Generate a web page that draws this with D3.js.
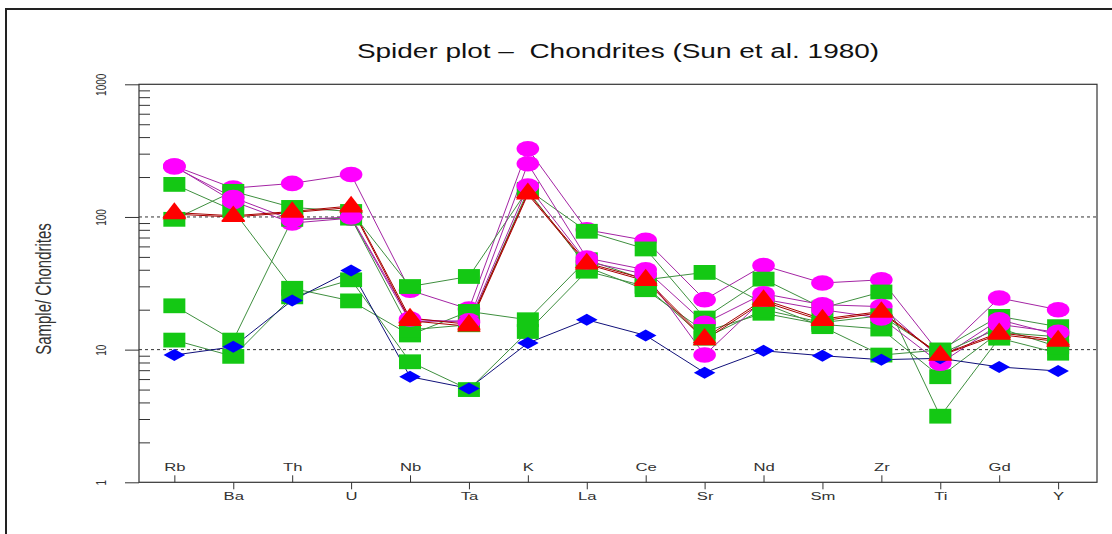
<!DOCTYPE html>
<html>
<head>
<meta charset="utf-8">
<script src="https://cdn.jsdelivr.net/npm/d3@7"></script>
<style>
  body { margin: 0; background: #fff; }
  svg { display: block; font-family: "Liberation Sans", Arial, sans-serif; }
</style>
</head>
<body>
<div id="chart"></div>
<script>
// categories (spider plot elements)
const elements = ["Rb","Ba","Th","U","Nb","Ta","K","La","Ce","Sr","Nd","Sm","Zr","Ti","Gd","Y"]

// sample / chondrite values
const magenta1 = [242, 165, 179, 209, 28, 20.2, 327, 80, 66.6, 23.8, 43, 31.8, 33.6, 9.2, 24.5, 20]
const magenta2 = [242, 131, 90, 98, 16.3, 16.5, 252, 49, 40, 15.8, 26.4, 21.8, 21.1, 8.6, 16.8, 12.9]
const magenta3 = [238, 140, 95, 100, 17, 16, 171, 46, 37, 9.1, 24, 20, 17.3, 7.9, 15.5, 13.5]
const green1 = [96, 156, 118, 110, 29.9, 35.6, 161, 78, 57.4, 17.3, 34, 20.6, 27.2, 3.15, 12.2, 9.4]
const green2 = [176, 112, 29, 23.3, 12.9, 19.4, 16.8, 47.6, 33.6, 38.2, 22.4, 14.9, 9.1, 9.95, 17.8, 14.9]
const green3 = [21.4, 11.8, 96, 98, 14.1, 15.4, 158, 42, 28.3, 13.7, 18.8, 15.5, 14.3, 6.25, 13.5, 12.5]
const green4 = [11.8, 8.9, 25, 33.6, 8.1, 5.0, 13.7, 39, 30, 12.2, 20, 16, 18, 9.3, 14.5, 10.5]
const blue1 = [9.1, 10.5, 23.5, 39.5, 6.25, 5.1, 11.2, 16.8, 12.8, 6.7, 9.8, 9.0, 8.4, 8.6, 7.4, 6.9]
const red1 = [108, 102, 110, 121, 17.3, 15.5, 152, 45, 34, 12.2, 23.8, 17, 19.4, 9.1, 13.4, 11.8]
const red2 = [105, 100, 108, 118, 16.5, 15, 148, 44, 33, 11.8, 23, 16.5, 19, 9.0, 13, 11.5]

const yTicks = [1, 10, 100, 1000]
const refLines = [10, 100]

const width = 1112,
  height = 534
const plotLeft = 139, plotRight = 1097, plotTop = 84.3, plotBottom = 482.3
const sx = 1.45   // the original picture is stretched sideways

const svg = d3.select('#chart')
  .append('svg')
  .attr('width', width)
  .attr('height', height)

const xScale = d3.scaleLinear()
  .domain([0.4, 16.66])
  .range([plotLeft, plotRight])

const yScale = d3.scaleLog()
  .domain([1, 1000])
  .range([plotBottom, plotTop])

// outer frame (only top/left visible)
svg.append('rect')
  .attr('x', 6).attr('y', 9)
  .attr('width', 1300).attr('height', 700)
  .attr('fill', 'none').attr('stroke', '#222').attr('stroke-width', 2)

// title
svg.append('text')
  .attr('transform', `translate(618,58) scale(${sx},1)`)
  .attr('text-anchor', 'middle')
  .style('white-space', 'pre')
  .attr('font-size', 19.3)
  .attr('fill', '#111')
  .text('Spider plot \u2013  Chondrites (Sun et al. 1980)')

// y label
svg.append('text')
  .attr('transform', `translate(51,289) scale(${sx},1) rotate(-90)`)
  .attr('text-anchor', 'middle')
  .attr('font-size', 15)
  .attr('fill', '#333')
  .text('Sample/ Chondrites')

// dashed reference lines
svg.selectAll('.ref')
  .data(refLines)
  .enter()
  .append('line')
  .attr('x1', plotLeft).attr('x2', plotRight)
  .attr('y1', d => yScale(d)).attr('y2', d => yScale(d))
  .attr('stroke', '#333')
  .attr('stroke-dasharray', '3,3')

// y axis, major ticks outwards
const yAxis = svg.append('g')
  .attr('transform', `translate(${plotLeft},0)`)
  .call(d3.axisLeft(yScale).tickValues(yTicks).tickSize(14).tickSizeOuter(0).tickFormat(d3.format('d')))
yAxis.select('.domain').remove()
yAxis.selectAll('line').attr('stroke', '#333')
yAxis.selectAll('text')
  .attr('x', null).attr('dy', null)
  .attr('text-anchor', 'middle')
  .attr('font-size', 10)
  .attr('fill', '#333')
  .attr('transform', `translate(-33,0) scale(${sx},1) rotate(-90)`)

// minor ticks inwards
const minors = []
;[1, 10, 100].forEach(p => { for (let k = 2; k <= 9; k++) minors.push(k * p) })
const yMinor = svg.append('g')
  .attr('transform', `translate(${plotLeft},0)`)
  .call(d3.axisRight(yScale).tickValues(minors).tickSize(11).tickFormat(''))
yMinor.select('.domain').remove()
yMinor.selectAll('line').attr('stroke', '#333')

// x axis: odd elements labelled inside, even below
const oddIdx = d3.range(1, 17, 2), evenIdx = d3.range(2, 17, 2)
const xTop = svg.append('g')
  .attr('transform', `translate(0,${plotBottom})`)
  .call(d3.axisTop(xScale).tickValues(oddIdx).tickSize(7).tickPadding(4.5).tickFormat(i => elements[i - 1]))
const xBot = svg.append('g')
  .attr('transform', `translate(0,${plotBottom})`)
  .call(d3.axisBottom(xScale).tickValues(evenIdx).tickSize(7).tickPadding(2.2).tickFormat(i => elements[i - 1]))
;[xTop, xBot].forEach(g => {
  g.select('.domain').remove()
  g.selectAll('line').attr('stroke', '#333')
  g.selectAll('text')
    .attr('font-size', 11.5)
    .attr('fill', '#333')
    .attr('transform', `scale(${sx},1)`)
})

// plot box
svg.append('rect')
  .attr('x', plotLeft).attr('y', plotTop)
  .attr('width', plotRight - plotLeft).attr('height', plotBottom - plotTop)
  .attr('fill', 'none').attr('stroke', '#333').attr('stroke-width', 1.2)

// series
const series = [
  { vals: magenta1, shape: 'circle', fill: '#ff00ff', line: '#a424a4' },
  { vals: green1, shape: 'square', fill: '#14c814', line: '#3f8f3f' },
  { vals: green2, shape: 'square', fill: '#14c814', line: '#3f8f3f' },
  { vals: magenta2, shape: 'circle', fill: '#ff00ff', line: '#a424a4' },
  { vals: green3, shape: 'square', fill: '#14c814', line: '#3f8f3f' },
  { vals: green4, shape: 'square', fill: '#14c814', line: '#3f8f3f' },
  { vals: magenta3, shape: 'circle', fill: '#ff00ff', line: '#a424a4' },
  { vals: blue1, shape: 'diamond', fill: '#0000ff', line: '#10107a' },
  { vals: red1, shape: 'triangle', fill: '#ff0000', line: '#a80000' },
  { vals: red2, shape: 'triangle', fill: '#ff0000', line: '#a80000' }
]

const shapes = {
  circle: 'M-11.3,0A11.3,7.8 0 1,0 11.3,0A11.3,7.8 0 1,0 -11.3,0Z',
  square: 'M-11,-7.4H11V7.4H-11Z',
  triangle: 'M0,-10.3L12,5.15L-12,5.15Z',
  diamond: 'M0,-6L10.8,0L0,6L-10.8,0Z'
}

const line = d3.line()
  .x((d, i) => xScale(i + 1))
  .y(d => yScale(d))

svg.selectAll('.series-line')
  .data(series)
  .enter()
  .append('path')
  .attr('class', 'series-line')
  .attr('d', s => line(s.vals))
  .attr('fill', 'none')
  .attr('stroke', s => s.line)
  .attr('stroke-width', 1)

series.forEach(s => {
  svg.append('g')
    .selectAll('path')
    .data(s.vals)
    .enter()
    .append('path')
    .attr('d', shapes[s.shape])
    .attr('transform', (d, i) => `translate(${xScale(i + 1)},${yScale(d)})`)
    .attr('fill', s.fill)
})
</script>
</body>
</html>
